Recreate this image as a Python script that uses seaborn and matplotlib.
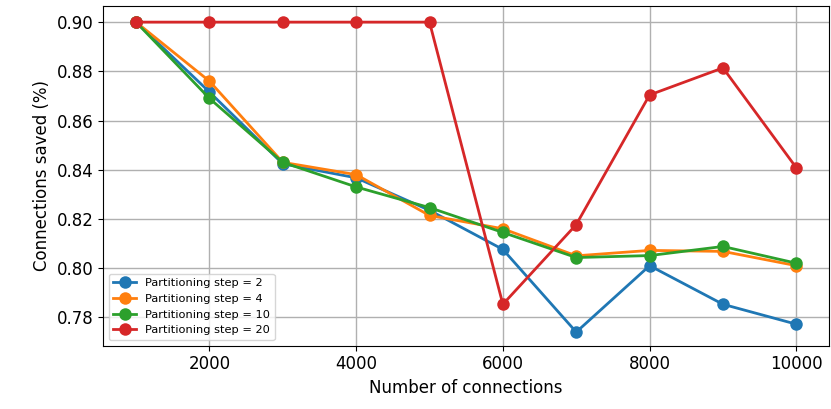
import matplotlib
matplotlib.use("Agg")
import matplotlib.pyplot as plt
import seaborn as sns
import pandas as pd

connections = [1000, 2000, 3000, 4000, 5000, 6000, 7000, 8000, 9000, 10000]
step2 = [0.900, 0.8716, 0.8424, 0.8367, 0.8235, 0.8076, 0.7740, 0.8010, 0.7853, 0.7772]
step4 = [0.900, 0.8760, 0.8430, 0.8380, 0.8214, 0.8160, 0.8050, 0.8072, 0.8068, 0.8010]
step10 = [0.900, 0.8690, 0.8430, 0.8330, 0.8246, 0.8145, 0.8043, 0.8051, 0.8088, 0.8020]
step20 = [0.900, 0.900, 0.900, 0.900, 0.900, 0.7853, 0.8177, 0.8704, 0.8814, 0.8408]
labels = ["Partitioning step = 2", "Partitioning step = 4",
          "Partitioning step = 10", "Partitioning step = 20"]

rows = []
for lab, vals in zip(labels, [step2, step4, step10, step20]):
    for c, v in zip(connections, vals):
        rows.append({"conn": c, "saved": v, "series": lab})
df = pd.DataFrame(rows)

fig, ax = plt.subplots(figsize=(8.31, 4.09), dpi=100)
palette = ["#1f77b4", "#ff7f0e", "#2ca02c", "#d62728"]
for lab, col in zip(labels, palette):
    d = df[df.series == lab]
    sns.lineplot(data=d, x="conn", y="saved", ax=ax, color=col, marker="o",
                 markersize=9, markeredgewidth=0, linewidth=2, label=lab)

ax.grid(True, color="#b0b0b0", linewidth=1)
ax.set_axisbelow(True)
ax.set_xlabel("Number of connections", fontsize=12)
ax.set_ylabel("Connections saved (%)", fontsize=12)
ax.set_xticks([2000, 4000, 6000, 8000, 10000])
ax.set_yticks([0.78, 0.80, 0.82, 0.84, 0.86, 0.88, 0.90])
ax.set_yticklabels([f"{v:.2f}" for v in [0.78, 0.80, 0.82, 0.84, 0.86, 0.88, 0.90]])
ax.tick_params(labelsize=12)
ax.set_xlim(550, 10450)
ax.set_ylim(0.7685, 0.9065)
ax.legend(loc="lower left", fontsize=8.2)
fig.subplots_adjust(left=0.124, right=0.998, top=0.985, bottom=0.155)
fig.savefig("out.png", dpi=100)
